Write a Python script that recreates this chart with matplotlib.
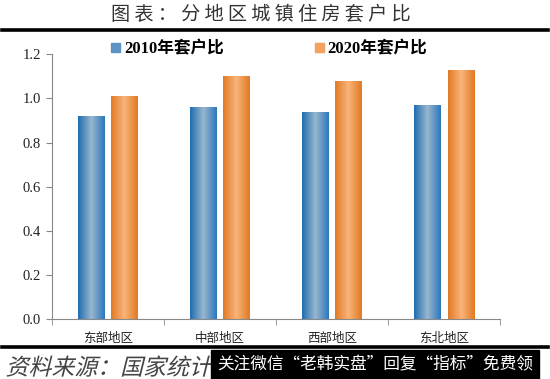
import numpy as np
import matplotlib
matplotlib.use("Agg")
import matplotlib.pyplot as plt
from matplotlib.colors import LinearSegmentedColormap
from matplotlib.lines import Line2D
from matplotlib.patches import Rectangle, PathPatch
from matplotlib.textpath import TextPath
from matplotlib.font_manager import FontProperties
from matplotlib.transforms import Affine2D

plt.rcParams['font.family'] = ['Liberation Serif', 'Noto Sans CJK SC', 'DejaVu Sans']

regions = ['东部地区', '中部地区', '西部地区', '东北地区']
ratio_2010 = [0.92, 0.96, 0.94, 0.97]
ratio_2020 = [1.01, 1.10, 1.08, 1.13]
series_names = ['2010年套户比', '2020年套户比']
yticks = [0.0, 0.2, 0.4, 0.6, 0.8, 1.0, 1.2]

blue_cmap = LinearSegmentedColormap.from_list('b', ['#1f6db0', '#9ab7cf', '#2a78bb'])
orange_cmap = LinearSegmentedColormap.from_list('o', ['#e27a26', '#f9b47a', '#e07a24'])

fig = plt.figure(figsize=(5.5, 3.79), dpi=100)
ax = fig.add_axes([0.0945, 0.158, 0.815, 0.699])

x = np.arange(len(regions))
w = 0.24
off = 0.15
grad = np.linspace(0, 1, 64).reshape(1, -1)

for vals, dx, cmap in [(ratio_2010, -off, blue_cmap), (ratio_2020, off, orange_cmap)]:
    bars = ax.bar(x + dx, vals, w, color='none', edgecolor='none')
    for b in bars:
        x0, y0 = b.get_x(), b.get_y()
        im = ax.imshow(grad, cmap=cmap, aspect='auto',
                       extent=(x0, x0 + b.get_width(), y0, y0 + b.get_height()),
                       zorder=2)
        im.set_clip_path(b)

ax.set_xlim(-0.5, len(regions) - 0.5)
ax.set_ylim(0, 1.2)
ax.set_yticks(yticks)
ax.set_yticklabels(['%.1f' % t for t in yticks], fontsize=10.5, color='#222222')
ax.set_xticks(x)
ax.set_xticklabels(regions, fontsize=9, family=['Noto Sans CJK SC'], color='#222222')
ax.set_xticks(np.arange(len(regions) + 1) - 0.5, minor=True)
ax.tick_params(axis='x', which='major', length=0, pad=9)
ax.tick_params(axis='x', which='minor', length=4, color='#888888')
ax.tick_params(axis='y', length=4, color='#888888', pad=4)
for s in ['top', 'right']:
    ax.spines[s].set_visible(False)
for s in ['left', 'bottom']:
    ax.spines[s].set_color('#888888')
    ax.spines[s].set_linewidth(0.8)

handles = [Rectangle((0, 0), 1, 1, color='#5b93c4'), Rectangle((0, 0), 1, 1, color='#f1a25e')]
leg = ax.legend(handles, series_names, loc='upper center', bbox_to_anchor=(0.485, 1.105),
                ncol=2, frameon=False, columnspacing=5.5, handlelength=0.5, handleheight=0.5,
                handletextpad=0.25, prop={'family': ['Liberation Serif', 'Noto Sans CJK SC'],
                                          'weight': 'bold', 'size': 12})

fig.text(0.475, 0.962, '图 表 ： 分 地 区 城 镇 住 房 套 户 比', ha='center', va='center',
         fontsize=13.8, family=['Noto Sans CJK SC'], weight='light', color='#333333')
fig.add_artist(Line2D([0.004, 0.996], [0.921, 0.921], color='black', lw=2.6))
fig.add_artist(Line2D([0.004, 0.996], [0.085, 0.085], color='black', lw=2.6))

# italic source line: CJK font has no italic, so shear the glyph outlines
src = TextPath((0, 0), '资料来源：国家统计局', size=16.5,
               prop=FontProperties(family='Noto Sans CJK SC', weight='light'))
tr = Affine2D().skew_deg(14, 0).translate(4, 3).scale(1 / 72.0) + fig.dpi_scale_trans
fig.add_artist(PathPatch(src, transform=tr, facecolor='#444444', edgecolor='none'))

fig.text(0.395, 0.038, '关注微信“老韩实盘”回复“指标”免费领', ha='left', va='center',
         fontsize=12, family=['Noto Sans CJK SC'], color='white',
         bbox=dict(facecolor='black', edgecolor='black', pad=4.5), zorder=5)

fig.savefig('out.png', dpi=100)
